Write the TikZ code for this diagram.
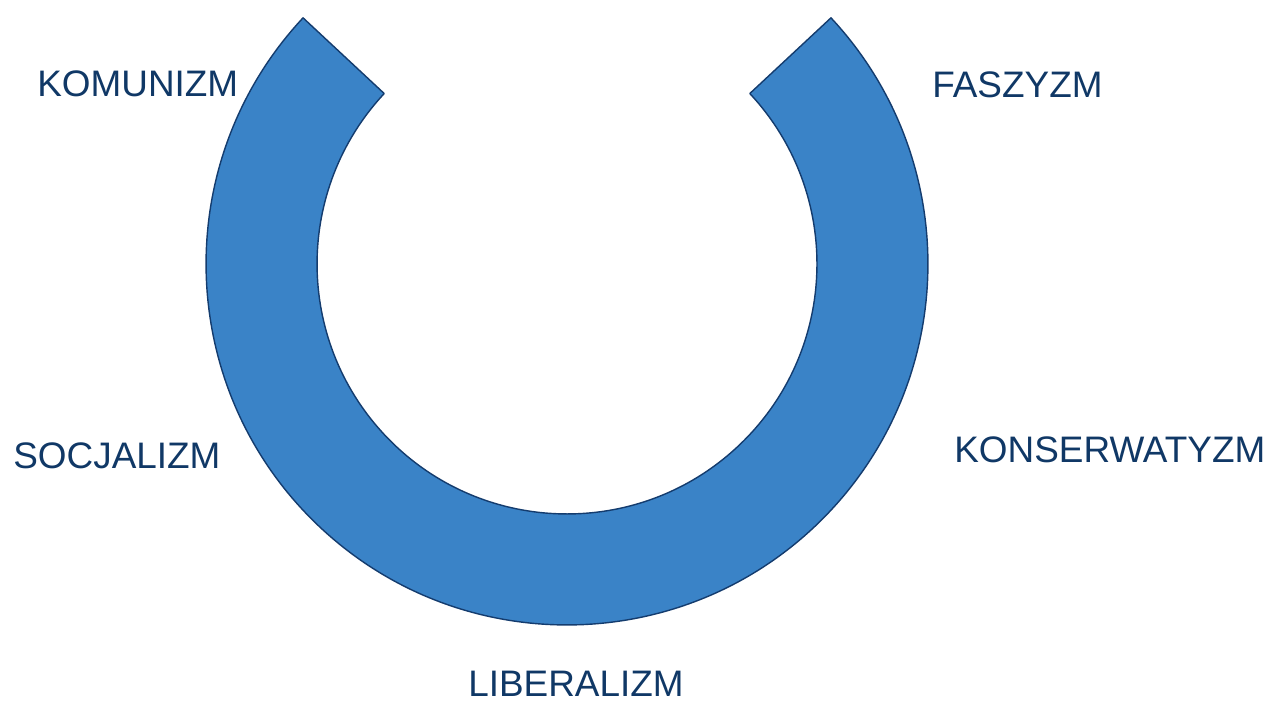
\documentclass[tikz,border=0pt]{standalone}
\usepackage{fontspec}
\setmainfont{Liberation Sans}
\usepackage{tikz}
\usepackage{xcolor}
\definecolor{ringfill}{RGB}{58,131,199}
\definecolor{ringline}{RGB}{20,60,110}
\definecolor{labeltext}{RGB}{16,56,102}

\begin{document}
\begin{tikzpicture}[x=0.02cm, y=0.02cm, label/.style={anchor=base west, inner sep=0pt, text=labeltext, font=\fontsize{21pt}{24pt}\selectfont}]
    \useasboundingbox (0,0) rectangle (1283,700);
    \coordinate (c) at (567,436);

    \draw[fill=ringfill, draw=ringline, line width=0.8pt, line join=round]
        ([shift={(137:7.22cm)}]c) arc[start angle=137, end angle=403, radius=7.22cm]
        -- ([shift={(43:5.0cm)}]c) arc[start angle=43, end angle=-223, radius=5.0cm]
        -- cycle;

    \node[label] (komunizm) at (37,603) {KOMUNIZM};
    \node[label] (faszyzm) at (932,602) {FASZYZM};
    \node[label] (socjalizm) at (13,232) {SOCJALIZM};
    \node[label] (konserwatyzm) at (954,238) {KONSERWATYZM};
    \node[label] (liberalizm) at (468,4) {LIBERALIZM};

\end{tikzpicture}
\end{document}
